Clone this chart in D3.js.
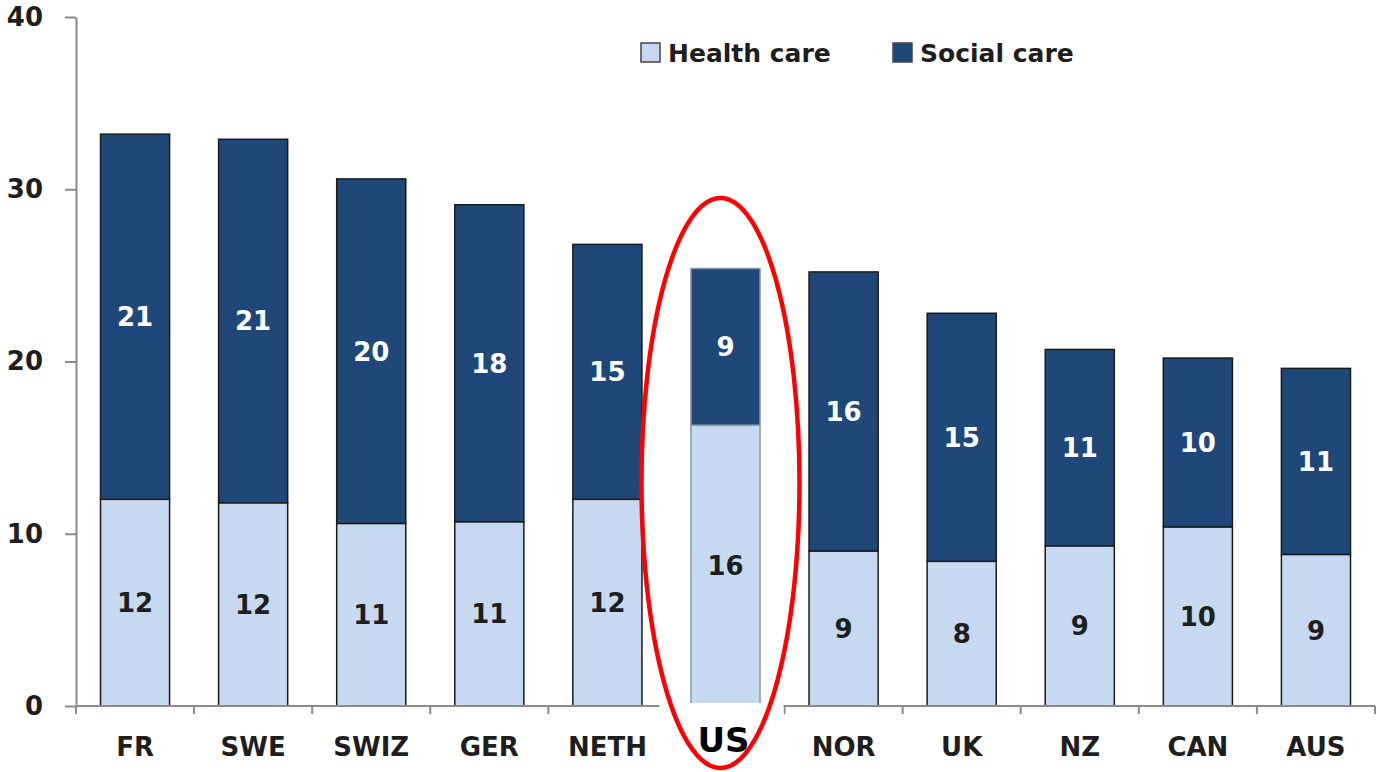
<!DOCTYPE html>
<html>
  <head>
    <meta charset="utf-8">
    <title>Health and social care spending</title>
    <style>
      body { margin: 0; background: #fff; }
      svg text { font-family: "DejaVu Sans", "Open Sans", sans-serif; font-weight: bold; }
      .axis path, .axis line { stroke: #8a8a8a; stroke-width: 2px; }
      .axis text { fill: #1e1e1e; font-size: 26px; }
    </style>
  </head>
  <body>
    <svg width="1384" height="772"></svg>
    <script src="https://d3js.org/d3.v7.min.js"></script>
    <script>
      // data
      const countries = ["FR", "SWE", "SWIZ", "GER", "NETH", "US", "NOR", "UK", "NZ", "CAN", "AUS"];
      const health = [12.0, 11.8, 10.6, 10.7, 12.0, 16.3, 9.0, 8.4, 9.3, 10.4, 8.8];
      const social = [21.2, 21.1, 20.0, 18.4, 14.8, 9.1, 16.2, 14.4, 11.4, 9.8, 10.8];
      const healthLabels = ["12", "12", "11", "11", "12", "16", "9", "8", "9", "10", "9"];
      const socialLabels = ["21", "21", "20", "18", "15", "9", "16", "15", "11", "10", "11"];
      const yTicks = [0, 10, 20, 30, 40];
      const seriesNames = ["Health care", "Social care"];
      const colors = ["#c6d9f0", "#1f4878"];

      const svg = d3.select("svg");
      const margin = {left: 76, right: 9, top: 17, bottom: 66};
      const W = 1384, H = 772;

      const x = d3.scaleBand()
        .domain(countries)
        .range([margin.left, W - margin.right])
        .paddingInner(0.415)
        .paddingOuter(0.2075);

      const y = d3.scaleLinear()
        .domain([0, 40])
        .range([H - margin.bottom, margin.top]);

      const rows = countries.map((c, i) => ({country: c, health: health[i], social: social[i], i: i}));
      const stack = d3.stack().keys(["health", "social"])(rows);

      // bars
      svg.append("g").selectAll("g")
        .data(stack)
        .join("g")
        .attr("fill", (d, k) => colors[k])
        .selectAll("rect")
        .data(d => d)
        .join("rect")
        .attr("x", d => x(d.data.country))
        .attr("width", x.bandwidth())
        .attr("y", d => y(d[1]))
        .attr("height", d => y(d[0]) - y(d[1]))
        .attr("stroke", d => d.data.country === "US" ? "#8d98a8" : "#1a1a1a")
        .attr("stroke-width", 1.5);

      // value labels
      stack.forEach((layer, k) => {
        svg.append("g").selectAll("text")
          .data(layer)
          .join("text")
          .attr("x", d => x(d.data.country) + x.bandwidth() / 2)
          .attr("y", d => (y(d[0]) + y(d[1])) / 2)
          .attr("dy", "0.36em")
          .attr("text-anchor", "middle")
          .attr("font-size", 26)
          .attr("fill", k === 0 ? "#1e1e1e" : "#ffffff")
          .text(d => (k === 0 ? healthLabels : socialLabels)[d.data.i]);
      });

      // y axis
      const yAxis = svg.append("g")
        .attr("class", "axis")
        .attr("transform", `translate(${margin.left},0)`)
        .call(d3.axisLeft(y).tickValues(yTicks).tickSize(11).tickPadding(22).tickSizeOuter(0));
      yAxis.selectAll("text").attr("font-size", 27);

      // x axis, ticks between categories
      const step = x.step();
      const xAxis = svg.append("g")
        .attr("class", "axis")
        .attr("transform", `translate(0,${y(0)})`);
      xAxis.append("line")
        .attr("x1", margin.left).attr("x2", W - margin.right);
      xAxis.selectAll(".sep")
        .data(d3.range(countries.length + 1))
        .join("line")
        .attr("class", "sep")
        .attr("x1", i => margin.left + i * step)
        .attr("x2", i => margin.left + i * step)
        .attr("y1", 0).attr("y2", 8);
      xAxis.selectAll("text")
        .data(countries.filter(c => c !== "US"))
        .join("text")
        .attr("x", c => x(c) + x.bandwidth() / 2)
        .attr("y", 50)
        .attr("text-anchor", "middle")
        .text(c => c);

      // US highlight: white patch over the axis, big label, red ellipse
      const usX = x("US") + x.bandwidth() / 2;
      svg.append("rect")
        .attr("x", usX - 66).attr("y", y(0) - 3)
        .attr("width", 124).attr("height", H - y(0) + 3)
        .attr("fill", "#fff");
      svg.append("text")
        .attr("x", usX - 2).attr("y", 752)
        .attr("text-anchor", "middle")
        .attr("font-size", 34)
        .attr("fill", "#000")
        .attr("font-family", "'Liberation Sans', Arial, sans-serif")
        .text("US");
      svg.append("ellipse")
        .attr("cx", usX - 5).attr("cy", 483)
        .attr("rx", 79).attr("ry", 285)
        .attr("fill", "none")
        .attr("stroke", "#ff0000")
        .attr("stroke-width", 4.5);

      // legend
      const legendX = [641, 893];
      const legend = svg.append("g").selectAll("g")
        .data(seriesNames)
        .join("g")
        .attr("transform", (d, k) => `translate(${legendX[k]},43)`);
      legend.append("rect")
        .attr("width", 19).attr("height", 19)
        .attr("fill", (d, k) => colors[k])
        .attr("stroke", "#444").attr("stroke-width", 1.5);
      legend.append("text")
        .attr("x", 27).attr("y", 10)
        .attr("dy", "0.36em")
        .attr("font-size", 25)
        .attr("fill", "#1e1e1e")
        .text(d => d);
    </script>
  </body>
</html>
